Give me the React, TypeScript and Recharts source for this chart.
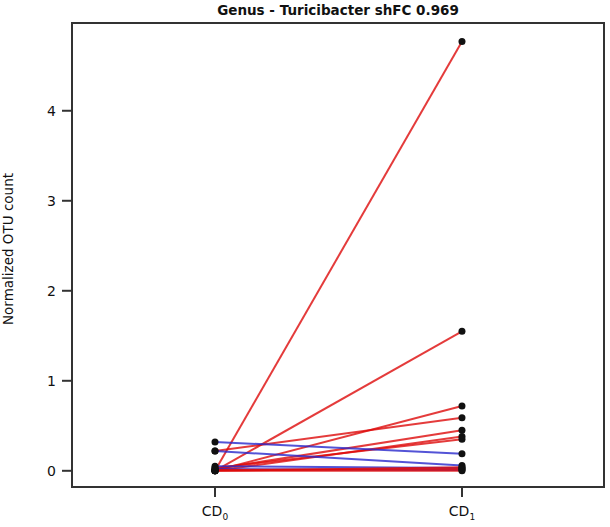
import React from 'react';
import {
  ComposedChart,
  Line,
  Scatter,
  XAxis,
  YAxis,
  ReferenceArea,
} from 'recharts';

// paired samples: value at CD0 and CD1 for each subject
const cd0 = [0.0, 0.0, 0.0, 0.22, 0.02, 0.0, 0.03, 0.32, 0.22, 0.05, 0.02, 0.0, 0.0, 0.01];
const cd1 = [4.77, 1.55, 0.72, 0.59, 0.45, 0.38, 0.35, 0.19, 0.06, 0.03, 0.01, 0.04, 0.0, 0.02];
const groups = ['0', '1'];
const yTicks = [0, 1, 2, 3, 4];

const X_DOMAIN: [number, number] = [-0.579, 1.575];
const Y_DOMAIN: [number, number] = [-0.18, 4.975];
const FONT = '"DejaVu Sans", Verdana, sans-serif';

const pairs = cd0.map((v, i) => [
  { x: 0, y: v },
  { x: 1, y: cd1[i] },
]);
const points = pairs.flat();

const XTick = ({ x, y, payload }: any) => (
  <text x={x} y={y + 17} textAnchor="middle" fontFamily={FONT} fontSize={14} fill="#111">
    <tspan>CD</tspan>
    <tspan fontSize={9} dy={4}>{groups[payload.value]}</tspan>
  </text>
);

const YLabel = () => (
  <text
    x={13}
    y={249}
    transform="rotate(-90 13 249)"
    textAnchor="middle"
    fontFamily={FONT}
    fontSize={13.5}
    fill="#111"
  >
    Normalized OTU count
  </text>
);

export default function App() {
  return (
    <div style={{ position: 'absolute', left: 0, top: 0, width: 610, height: 527, background: '#fff' }}>
      <div
        style={{
          position: 'absolute',
          left: 72,
          width: 532,
          top: 2,
          textAlign: 'center',
          fontFamily: FONT,
          fontWeight: 'bold',
          fontSize: 13.5,
          color: '#111',
        }}
      >
        Genus - Turicibacter shFC 0.969
      </div>
      <ComposedChart width={610} height={527} margin={{ top: 23, right: 6, bottom: 0, left: 0 }}>
        <XAxis
          type="number"
          dataKey="x"
          domain={X_DOMAIN}
          ticks={[0, 1]}
          allowDataOverflow
          height={40}
          tick={<XTick />}
          tickSize={10}
          tickLine={{ stroke: '#333', strokeWidth: 2 }}
          axisLine={false}
        />
        <YAxis
          type="number"
          dataKey="y"
          domain={Y_DOMAIN}
          ticks={yTicks}
          allowDataOverflow
          width={72}
          tickSize={10}
          tickMargin={6}
          tick={{ fontFamily: FONT, fontSize: 14, fill: '#111' }}
          tickLine={{ stroke: '#333', strokeWidth: 2 }}
          axisLine={false}
          label={{ content: <YLabel /> }}
        />
        <ReferenceArea
          x1={X_DOMAIN[0]}
          x2={X_DOMAIN[1]}
          y1={Y_DOMAIN[0]}
          y2={Y_DOMAIN[1]}
          fill="none"
          stroke="#333"
          strokeWidth={2}
        />
        {pairs.map((d, i) => {
          const up = cd1[i] >= cd0[i];
          return (
            <Line
              key={i}
              data={d}
              dataKey="y"
              type="linear"
              stroke={up ? '#dd0a0a' : '#2828cc'}
              strokeOpacity={0.8}
              strokeWidth={2}
              dot={false}
              isAnimationActive={false}
            />
          );
        })}
        <Scatter
          data={points}
          dataKey="y"
          fill="#111"
          shape={(p: any) => <circle cx={p.cx} cy={p.cy} r={3.5} fill="#111" />}
          isAnimationActive={false}
        />
      </ComposedChart>
    </div>
  );
}
